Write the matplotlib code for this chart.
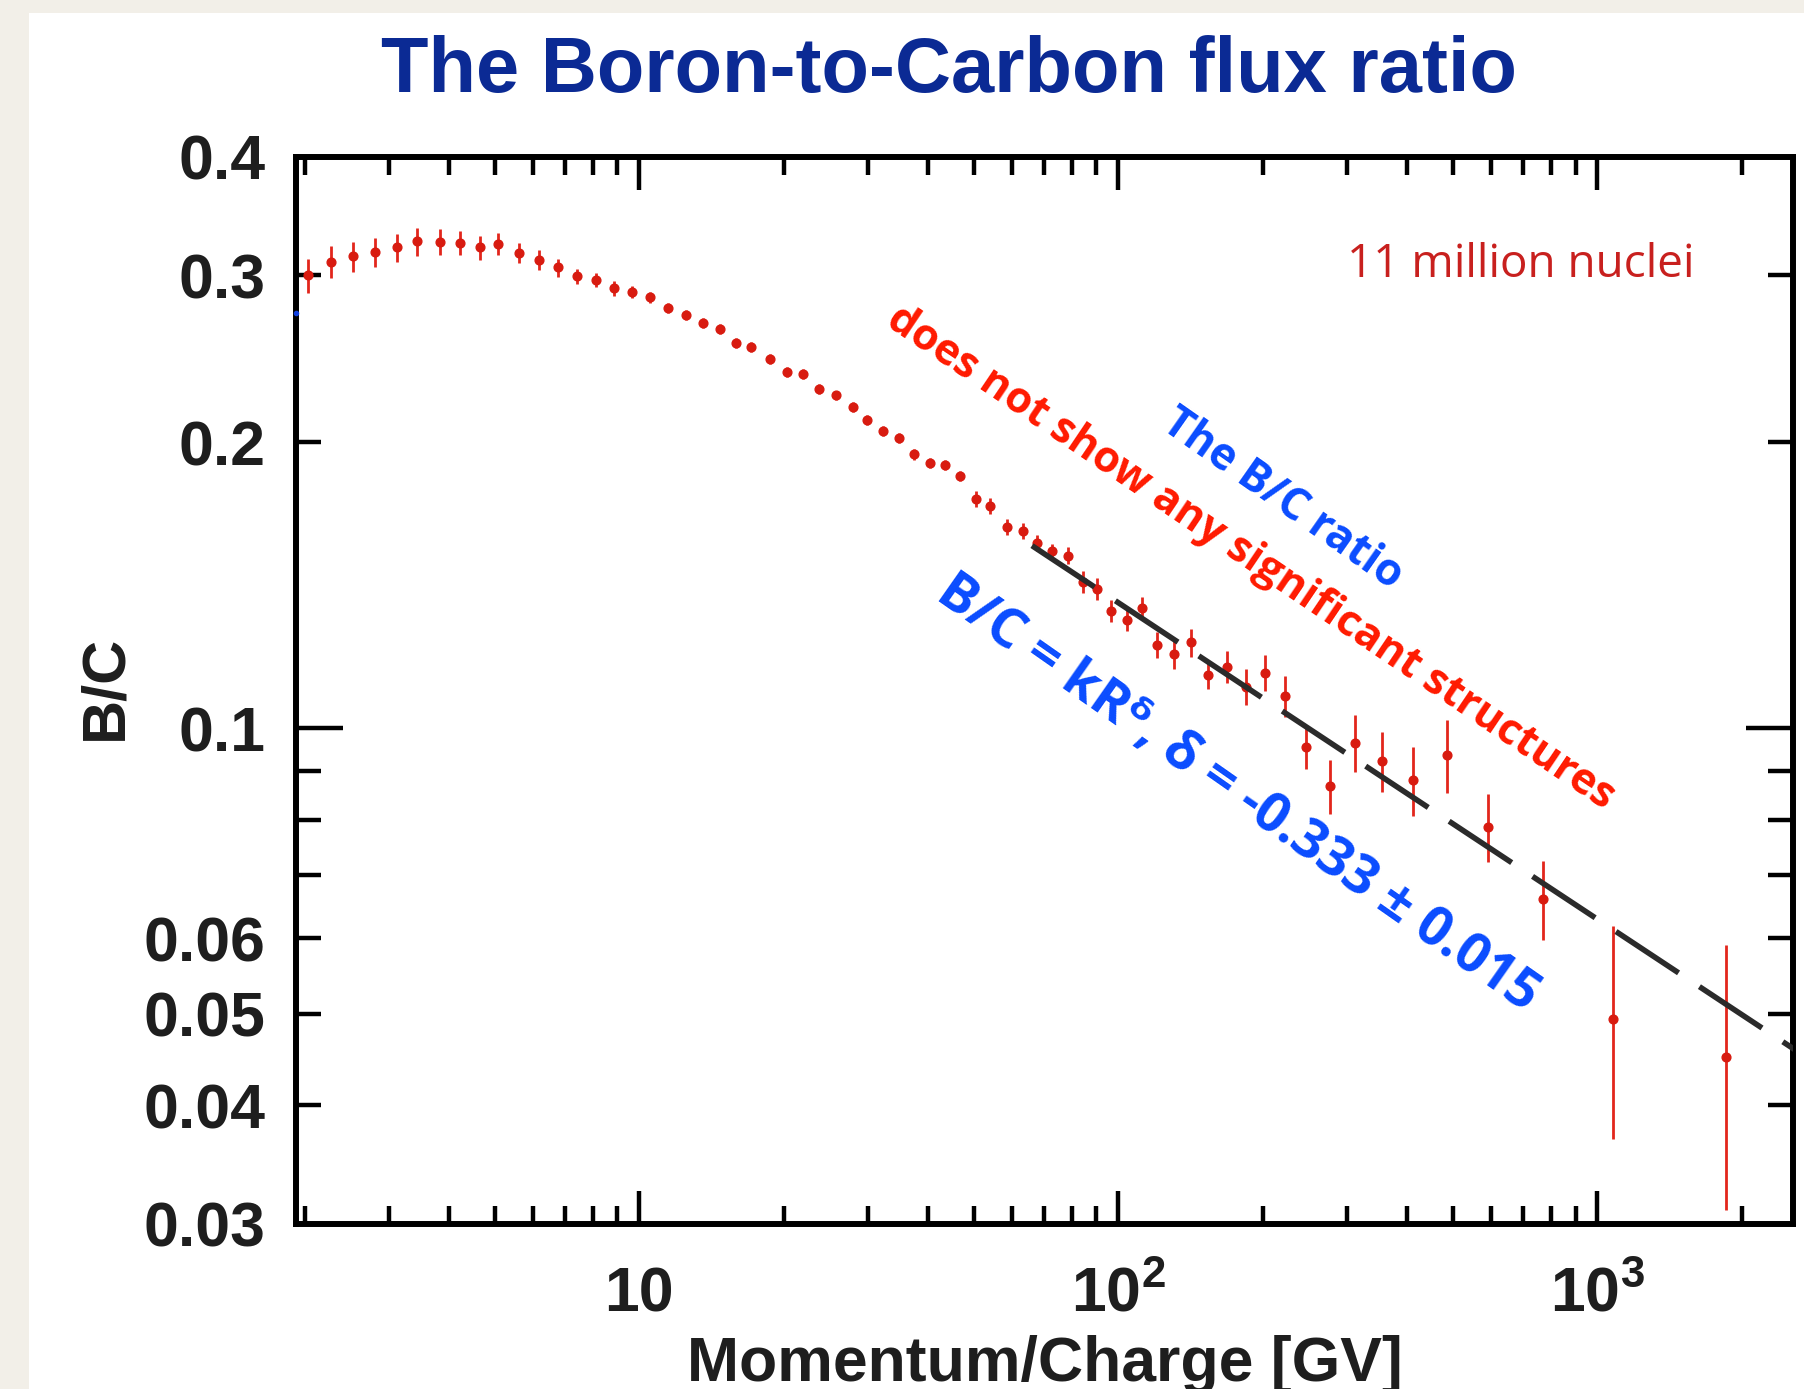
import numpy as np
import matplotlib
matplotlib.use("Agg")
import matplotlib.pyplot as plt
from matplotlib.ticker import FixedLocator, FixedFormatter, NullFormatter
from matplotlib.patches import Rectangle

# B/C data (rigidity in GV)
rigidity = [2.03, 2.27, 2.52, 2.81, 3.12, 3.44, 3.83, 4.23, 4.65, 5.07,
            5.62, 6.18, 6.75, 7.41, 8.11, 8.86, 9.65, 10.5, 11.45, 12.5,
            13.6, 14.7, 15.95, 17.1, 18.75, 20.3, 22.0, 23.7, 25.7, 27.9,
            29.9, 32.3, 34.8, 37.5, 40.4, 43.4, 46.7, 50.4, 54.0, 58.5,
            63.1, 67.7, 72.8, 78.3, 84.3, 90.3, 96.7, 104.4, 112.2, 120.6,
            130.6, 142.0, 154.0, 168.9, 184.4, 202.3, 222.7, 246.8, 276.5, 311.7,
            354.4, 412.7, 484.3, 590.6, 769.2, 1077.0, 1857.0]
bc_ratio = [0.300, 0.310, 0.3142, 0.3172, 0.3211, 0.3258, 0.3255, 0.3245, 0.3211, 0.324,
            0.3167, 0.3116, 0.3059, 0.2993, 0.2968, 0.2907, 0.2879, 0.2844, 0.2775, 0.2726,
            0.2671, 0.2633, 0.2545, 0.2522, 0.2451, 0.2373, 0.236, 0.2279, 0.2242, 0.2182,
            0.2112, 0.2056, 0.2023, 0.1943, 0.1901, 0.1892, 0.1843, 0.1744, 0.1713, 0.1631,
            0.1612, 0.1567, 0.1535, 0.152, 0.1426, 0.1402, 0.133, 0.130, 0.1338, 0.1224,
            0.1197, 0.1231, 0.1138, 0.1161, 0.1106, 0.1144, 0.1081, 0.0956, 0.0869, 0.0965,
            0.0923, 0.0881, 0.0937, 0.0787, 0.0661, 0.0494, 0.0450]
bc_err = [0.0124, 0.0121, 0.0115, 0.0112, 0.0109, 0.0111, 0.0103, 0.0095, 0.0094, 0.0087,
          0.0077, 0.0076, 0.0067, 0.0058, 0.0051, 0.0050, 0.0042, 0.0041, 0.0034, 0.0033,
          0.0032, 0.0032, 0.0031, 0.0031, 0.0030, 0.0029, 0.0029, 0.0028, 0.0027, 0.0027,
          0.0026, 0.0025, 0.0025, 0.0024, 0.0023, 0.0023, 0.0022, 0.0034, 0.0033, 0.0032,
          0.0031, 0.0031, 0.0030, 0.0030, 0.0038, 0.0038, 0.0036, 0.0035, 0.0036, 0.0039,
          0.0044, 0.0042, 0.0039, 0.0045, 0.0048, 0.0050, 0.0053, 0.0051, 0.0057, 0.0066,
          0.0067, 0.0073, 0.0082, 0.0065, 0.0063, 0.0125, 0.0140]

# power-law fit drawn as a dashed line (end points)
fit_R = [66.0, 2600.0]
fit_bc = [0.1557, 0.0457]

# small blue marker sitting on the left axis
blue_R = [1.92]
blue_bc = [0.274]

x_major = [10, 100, 1000]
x_major_labels = ["10", r"$\mathbf{10^{2}}$", r"$\mathbf{10^{3}}$"]
x_minor = [2, 3, 4, 5, 6, 7, 8, 9, 20, 30, 40, 50, 60, 70, 80, 90,
           200, 300, 400, 500, 600, 700, 800, 900, 2000]
y_major = [0.1]
y_minor = [0.03, 0.04, 0.05, 0.06, 0.07, 0.08, 0.09, 0.2, 0.3, 0.4]
y_minor_labels = ["0.03", "0.04", "0.05", "0.06", "", "", "", "0.2", "0.3", "0.4"]

plt.rcParams["mathtext.fontset"] = "custom"
plt.rcParams["mathtext.bf"] = "Liberation Sans:bold"
plt.rcParams["mathtext.rm"] = "Liberation Sans"
plt.rcParams["font.family"] = ["Liberation Sans", "DejaVu Sans"]

fig = plt.figure(figsize=(18.04, 13.89), dpi=100, facecolor="#f2efe8")
fig.patches.append(Rectangle((29 / 1804, 0), 1, 1 - 13 / 1389, transform=fig.transFigure,
                             facecolor="white", edgecolor="none", zorder=-5))

ax = fig.add_axes([0.1641, 0.1188, 0.8298, 0.7682])
ax.set_xscale("log")
ax.set_yscale("log")
ax.set_xlim(1.92, 2560)
ax.set_ylim(0.03, 0.4)

ax.errorbar(rigidity, bc_ratio, yerr=bc_err, fmt="o", color="#d81b10", ms=6.3,
            ecolor="#e2261c", elinewidth=2.0, capsize=0, zorder=3)
ax.plot(fit_R, fit_bc, color="#2b2b2b", lw=4.0, linestyle=(0, (13.5, 4.5)),
        dash_capstyle="butt", zorder=4)
ax.plot(blue_R, blue_bc, "o", color="#1040e0", ms=3, clip_on=False, zorder=5)

# ticks, ROOT style
ax.xaxis.set_major_locator(FixedLocator(x_major))
ax.xaxis.set_major_formatter(FixedFormatter(x_major_labels))
ax.xaxis.set_minor_locator(FixedLocator(x_minor))
ax.xaxis.set_minor_formatter(NullFormatter())
ax.yaxis.set_major_locator(FixedLocator(y_major))
ax.yaxis.set_major_formatter(FixedFormatter(["0.1"]))
ax.yaxis.set_minor_locator(FixedLocator(y_minor))
ax.yaxis.set_minor_formatter(FixedFormatter(y_minor_labels))

ax.tick_params(axis="x", which="major", direction="in", top=True, length=24, width=3.2,
               labelsize=45, pad=63, labelcolor="#1e1e1e")
ax.tick_params(axis="x", which="minor", direction="in", top=True, length=13, width=3.2)
ax.tick_params(axis="y", which="major", direction="in", right=True, length=34, width=3.2,
               labelsize=45, pad=22, labelcolor="#1e1e1e")
ax.tick_params(axis="y", which="minor", direction="in", right=True, length=18, width=3.2,
               labelsize=45, pad=22, labelcolor="#1e1e1e")
for lbl in ax.get_xticklabels():
    lbl.set_fontweight("bold")
    lbl.set_verticalalignment("baseline")
for lbl in ax.get_yticklabels(which="both"):
    lbl.set_fontweight("bold")

for sp in ax.spines.values():
    sp.set_linewidth(4.3)

ax.set_xlabel("Momentum/Charge [GV]", fontsize=45, fontweight="bold", color="#1e1e1e", va="top")
ax.xaxis.set_label_coords(0.5, -0.104)
ax.set_ylabel("B/C", fontsize=44, fontweight="bold", color="#1e1e1e")
ax.yaxis.label.set_va("center")
ax.yaxis.set_label_coords(-0.127, 0.503)

fig.text(0.5263, 0.9338, "The Boron-to-Carbon flux ratio", ha="center", va="baseline",
         fontsize=56, fontweight="bold", color="#0b2a94")

ann_font = ["Open Sans", "DejaVu Sans"]
ax.text(0.818, 0.899, "11 million nuclei", transform=ax.transAxes, ha="center", va="center",
        fontsize=33, color="#c8201e", family=ann_font)
ax.text(0.638, 0.624, "does not show any significant structures", transform=ax.transAxes,
        ha="center", va="center", rotation=-34, rotation_mode="anchor",
        fontsize=31, fontweight="bold", color="#ff1a00", family=ann_font)
ax.text(0.659, 0.679, "The B/C ratio", transform=ax.transAxes,
        ha="center", va="center", rotation=-35, rotation_mode="anchor",
        fontsize=31.5, fontweight="bold", color="#0a4cff", family=ann_font)
ax.text(0.629, 0.403, "B/C = kR\u1d5f, \u03b4 = -0.333 \u00b1 0.015", transform=ax.transAxes,
        ha="center", va="center", rotation=-35, rotation_mode="anchor",
        fontsize=39, fontweight="bold", color="#0a4cff", family=ann_font)

fig.savefig("out.png", dpi=100, facecolor=fig.get_facecolor())
